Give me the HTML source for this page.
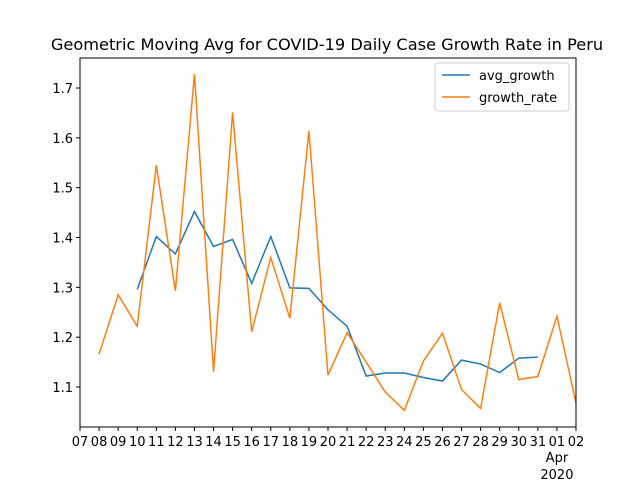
<!DOCTYPE html>
<html><head><meta charset="utf-8"><style>
body{margin:0;background:#fff}
svg{font-family:"DejaVu Sans","Liberation Sans",sans-serif}
</style></head><body>
<svg id="chart" width="640" height="480">
<rect width="640" height="480" fill="#fff"/>
<text x="327" y="50" font-size="16.2" text-anchor="middle">Geometric Moving Avg for COVID-19 Daily Case Growth Rate in Peru</text>
<g id="axes"></g>
<g id="lines"></g>
<rect x="80" y="58" width="496" height="369" fill="none" stroke="#000" stroke-width="1"/>
<g>
<rect x="435" y="63" width="134" height="48" fill="#fff" stroke="#ccc" rx="3"/>
<line x1="442" y1="75" x2="470" y2="75" stroke="#1f77b4" stroke-width="1.5"/>
<text x="479" y="80" font-size="13">avg_growth</text>
<line x1="442" y1="97" x2="470" y2="97" stroke="#ff7f0e" stroke-width="1.5"/>
<text x="479" y="102" font-size="13">growth_rate</text>
</g>
</svg>
<script>
const xLabels=["07","08","09","10","11","12","13","14","15","16","17","18","19","20","21","22","23","24","25","26","27","28","29","30","31","01","02"];
const yTicks=[1.1,1.2,1.3,1.4,1.5,1.6,1.7];
const growthRate=[1.166,1.285,1.222,1.545,1.293,1.728,1.131,1.651,1.211,1.360,1.238,1.614,1.124,1.209,1.150,1.090,1.053,1.152,1.208,1.095,1.057,1.269,1.115,1.121,1.242,1.068];
const growthStart=1;
const avgGrowth=[1.296,1.402,1.367,1.452,1.382,1.396,1.308,1.402,1.299,1.298,1.255,1.222,1.122,1.128,1.128,1.119,1.112,1.154,1.146,1.129,1.158,1.160];
const avgStart=3;
const NS="http://www.w3.org/2000/svg";
const X=i=>80+i*(496/26);
const Y=v=>387-(v-1.1)*498.3;
const ax=document.getElementById('axes'),ln=document.getElementById('lines');
function mk(t,a,p){const e=document.createElementNS(NS,t);for(const k in a)e.setAttribute(k,a[k]);p.appendChild(e);return e;}
xLabels.forEach((l,i)=>{
 const t=mk('line',{x1:X(i),x2:X(i),y1:427,y2:431,stroke:'#000'},ax);
 
 
 const tx=mk('text',{x:X(i),y:446,'font-size':13,'text-anchor':'middle'},ax);tx.textContent=l;
 
 
});
const a1=mk('text',{x:X(25),y:462,'font-size':13,'text-anchor':'middle'},ax);a1.textContent='Apr';


const a2=mk('text',{x:X(25),y:479,'font-size':13,'text-anchor':'middle'},ax);a2.textContent='2020';


yTicks.forEach(v=>{
 const t=mk('line',{x1:76,x2:80,y1:Y(v),y2:Y(v),stroke:'#000'},ax);
 
 
 const tx=mk('text',{x:73,y:Y(v)+5,'font-size':13,'text-anchor':'end'},ax);tx.textContent=v.toFixed(1);
 
 
});
const pa=mk('polyline',{points:avgGrowth.map((v,i)=>X(i+avgStart)+','+Y(v)).join(' '),fill:'none',stroke:'#1f77b4','stroke-width':1.5},ln);


const pg=mk('polyline',{points:growthRate.map((v,i)=>X(i+growthStart)+','+Y(v)).join(' '),fill:'none',stroke:'#ff7f0e','stroke-width':1.5},ln);


</script>
</body></html>
